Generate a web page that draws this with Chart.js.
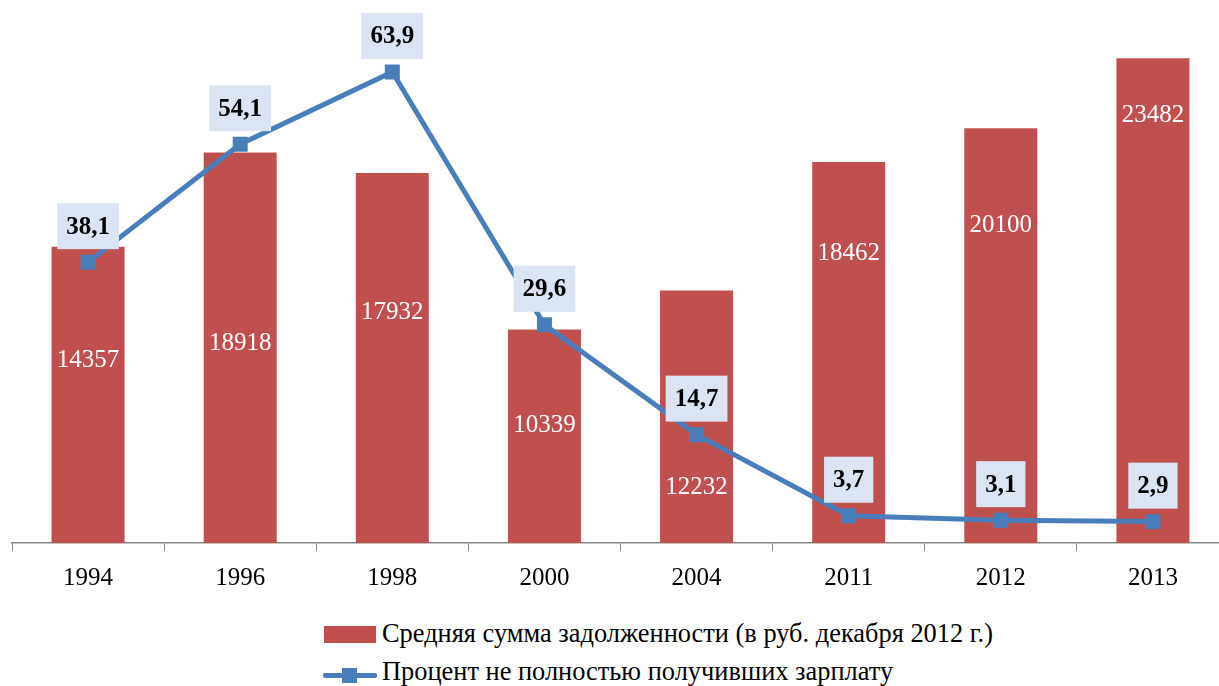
<!DOCTYPE html>
<html><head><meta charset="utf-8">
<script src="https://cdn.jsdelivr.net/npm/chart.js@4"></script>
<style>
html,body{margin:0;padding:0;background:#fff;overflow:hidden;width:1219px;height:686px;}
#wrap{position:absolute;left:0;top:0;width:1240px;height:600px;}
#legend{position:absolute;left:0;top:0;font-family:"Liberation Serif","Times New Roman",serif;font-size:26.4px;color:#000;}
.li{position:absolute;white-space:nowrap;}
</style></head><body>
<div id="wrap"><canvas id="c" width="1240" height="600"></canvas></div>
<div id="legend">
  <div style="position:absolute;left:324px;top:626px;width:52px;height:17px;background:#c0504d"></div>
  <div class="li" id="leg0" style="left:382px;top:617px;line-height:32px"></div>
  <div style="position:absolute;left:323px;top:673px;width:54px;height:5px;background:#4a7ebb;border-radius:2px"></div>
  <div style="position:absolute;left:342px;top:668px;width:15px;height:15px;background:#4a7ebb"></div>
  <div class="li" id="leg1" style="left:382px;top:655px;line-height:32px"></div>
</div>
<script>
const years = ["1994","1996","1998","2000","2004","2011","2012","2013"];
const debtValues = [14357, 18918, 17932, 10339, 12232, 18462, 20100, 23482];
const percentValues = [38.1, 54.1, 63.9, 29.6, 14.7, 3.7, 3.1, 2.9];
const barLabelFraction = [0.617, 0.512, 0.624, 0.553, 0.222, 0.761, 0.766, 0.883];
const seriesNames = ["Средняя сумма задолженности (в руб. декабря 2012 г.)","Процент не полностью получивших зарплату"];

document.getElementById('leg0').textContent = seriesNames[0];
document.getElementById('leg1').textContent = seriesNames[1];

const labelPlugin = {
  id: 'labels',
  afterDatasetsDraw(chart) {
    const ctx = chart.ctx;
    const barMeta = chart.getDatasetMeta(0);
    const lineMeta = chart.getDatasetMeta(1);
    ctx.save();
    ctx.textAlign = 'center';
    ctx.textBaseline = 'middle';
    ctx.font = '25px "Liberation Serif"';
    ctx.fillStyle = '#ffffff';
    barMeta.data.forEach((bar, i) => {
      const y = bar.base - (bar.base - bar.y) * barLabelFraction[i];
      ctx.fillText(String(debtValues[i]), bar.x, y);
    });
    ctx.font = 'bold 25px "Liberation Serif"';
    lineMeta.data.forEach((pt, i) => {
      const txt = percentValues[i].toFixed(1).replace('.', ',');
      const w = ctx.measureText(txt).width + 18;
      const h = 46;
      const cy = pt.y - 36;
      ctx.fillStyle = '#dbe4f2';
      ctx.fillRect(pt.x - w/2, cy - h/2, w, h);
      ctx.fillStyle = '#000';
      ctx.fillText(txt, pt.x, cy + 1);
    });
    ctx.restore();
  }
};

new Chart(document.getElementById('c'), {
  data: {
    labels: years,
    datasets: [
      { type: 'bar', label: seriesNames[0], data: debtValues, backgroundColor: '#c0504d',
        yAxisID: 'y', categoryPercentage: 1, barPercentage: 0.48, order: 2 },
      { type: 'line', label: seriesNames[1], data: percentValues, borderColor: '#4a7ebb', borderWidth: 5,
        pointStyle: 'rect', pointRadius: 10.6, pointBackgroundColor: '#4a7ebb', pointBorderWidth: 0,
        tension: 0, yAxisID: 'y2', order: 1 }
    ]
  },
  options: {
    responsive: false,
    animation: false,
    layout: { padding: { top: 27, left: 12, right: 11, bottom: 0 } },
    plugins: { legend: { display: false }, tooltip: { enabled: false } },
    scales: {
      x: {
        offset: true,
        grid: { display: true, drawOnChartArea: false, drawTicks: true, tickLength: 8, offset: true, color: '#868686' },
        border: { display: true, color: '#868686', width: 1.5 },
        ticks: { color: '#000', font: { family: '"Liberation Serif"', size: 25 }, padding: 12 },
        afterFit(s) { s.height = 57; }
      },
      y: { display: false, min: 0, max: 25000 },
      y2: { display: false, min: 0, max: 70, position: 'right' }
    }
  },
  plugins: [labelPlugin]
});
</script>
</body></html>
